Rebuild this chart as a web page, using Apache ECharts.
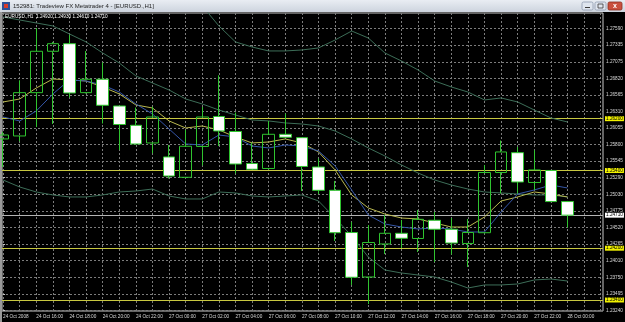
<!DOCTYPE html>
<html>
<head>
<meta charset="utf-8">
<script src="https://cdn.jsdelivr.net/npm/echarts@6/dist/echarts.min.js"></script>
<style>
  html, body { margin: 0; padding: 0; background: #000; }
  #chart { width: 625px; height: 322px; }
</style>
</head>
<body>
<div id="chart"></div>
<script>
// time labels, one every 2 bars (bar 0 = 24 Oct 14:00)
const timeLabels = ['24 Oct 2008', '24 Oct 16:00', '24 Oct 18:00', '24 Oct 20:00', '24 Oct 22:00',
  '27 Oct 00:00', '27 Oct 02:00', '27 Oct 04:00', '27 Oct 06:00', '27 Oct 08:00', '27 Oct 10:00',
  '27 Oct 12:00', '27 Oct 14:00', '27 Oct 16:00', '27 Oct 18:00', '27 Oct 20:00', '27 Oct 22:00',
  '28 Oct 00:00'];

// EURUSD H1 candles
const opens = [1.25887, 1.25933, 1.26602, 1.27241, 1.27358, 1.26602, 1.26809, 1.26396, 1.26098, 1.25825,
  1.25609, 1.25295, 1.25771, 1.26234, 1.26002, 1.25508, 1.25431, 1.25959, 1.25907, 1.25454,
  1.25094, 1.24442, 1.23755, 1.24265, 1.24430, 1.24350, 1.24631, 1.24492, 1.24273, 1.24439,
  1.25369, 1.25675, 1.25215, 1.25400, 1.24920];
const closes = [1.25948, 1.26602, 1.27241, 1.27358, 1.26597, 1.26809, 1.26407, 1.26110, 1.25809, 1.26226,
  1.25315, 1.25774, 1.26226, 1.26010, 1.25500, 1.25419, 1.25959, 1.25913, 1.25462, 1.25094,
  1.24439, 1.23751, 1.24288, 1.24430, 1.24353, 1.24646, 1.24492, 1.24280, 1.24442, 1.25369,
  1.25686, 1.25222, 1.25408, 1.24920, 1.24710];
const lows = [1.25454, 1.25851, 1.26072, 1.26118, 1.26527, 1.26589, 1.26126, 1.25717, 1.25802, 1.25666,
  1.25276, 1.25284, 1.25477, 1.25778, 1.25354, 1.25408, 1.25415, 1.25902, 1.25083, 1.25037,
  1.24311, 1.23632, 1.23338, 1.24110, 1.24203, 1.24141, 1.23987, 1.24103, 1.23910, 1.24427,
  1.25045, 1.25045, 1.25099, 1.24910, 1.24520];
const highs = [1.25995, 1.26793, 1.27601, 1.27385, 1.27493, 1.27246, 1.27068, 1.26400, 1.26373, 1.26385,
  1.25794, 1.26025, 1.26381, 1.26870, 1.26296, 1.25829, 1.26164, 1.26280, 1.25912, 1.25585,
  1.25238, 1.24605, 1.24558, 1.24713, 1.24636, 1.24790, 1.24759, 1.24666, 1.24651, 1.25485,
  1.25863, 1.25763, 1.25712, 1.25408, 1.24930];

// indicators
const maYellow = [1.26458, 1.26504, 1.26674, 1.26813, 1.26798, 1.26782, 1.26690, 1.26582, 1.26412, 1.26365,
  1.26165, 1.26056, 1.26087, 1.26026, 1.25917, 1.25825, 1.25840, 1.25887, 1.25825, 1.25686,
  1.25408, 1.25022, 1.24821, 1.24728, 1.24666, 1.24651, 1.24589, 1.24527, 1.24527, 1.24682,
  1.24929, 1.24991, 1.25068, 1.25037, 1.24991];
const maBlue = [1.26226, 1.26165, 1.26319, 1.26582, 1.26798, 1.26782, 1.26720, 1.26612, 1.26427, 1.26273,
  1.26041, 1.25809, 1.25794, 1.25948, 1.25917, 1.25778, 1.25748, 1.25794, 1.25778, 1.25701,
  1.25470, 1.25099, 1.24713, 1.24574, 1.24527, 1.24497, 1.24512, 1.24497, 1.24450, 1.24450,
  1.24759, 1.25037, 1.25099, 1.25176, 1.25130];
const bbUpper = [1.30288, 1.30303, 1.30288, 1.30242, 1.30025, 1.29778, 1.29408, 1.29053, 1.28636, 1.28388,
  1.28280, 1.28049, 1.27941, 1.27632, 1.27385, 1.27307, 1.27246, 1.27246, 1.27261, 1.27292,
  1.27415, 1.27554, 1.27446, 1.27215, 1.27091, 1.26952, 1.26782, 1.26690, 1.26612, 1.26489,
  1.26520, 1.26458, 1.26334, 1.26211, 1.26149];
const bbMid = [1.27771, 1.27724, 1.27678, 1.27632, 1.27508, 1.27385, 1.27215, 1.27060, 1.26860, 1.26751,
  1.26643, 1.26504, 1.26427, 1.26334, 1.26257, 1.26180, 1.26165, 1.26134, 1.26118, 1.26087,
  1.26010, 1.25887, 1.25748, 1.25624, 1.25485, 1.25361, 1.25253, 1.25176, 1.25114, 1.25068,
  1.25053, 1.25037, 1.25022, 1.25022, 1.24991];
const bbLower = [1.25253, 1.25145, 1.25068, 1.25022, 1.24991, 1.24991, 1.25022, 1.25068, 1.25083, 1.25114,
  1.25006, 1.24960, 1.24960, 1.25068, 1.25053, 1.25006, 1.24991, 1.25006, 1.25022, 1.24929,
  1.24666, 1.24388, 1.24064, 1.23863, 1.23817, 1.23786, 1.23755, 1.23678, 1.23585, 1.23632,
  1.23632, 1.23647, 1.23709, 1.23724, 1.23693];

// price scale labels and horizontal levels
const priceTicks = [1.27590, 1.27335, 1.27075, 1.26820, 1.26565, 1.26310, 1.26055, 1.25800, 1.25545,
  1.25290, 1.25030, 1.24775, 1.24520, 1.24265, 1.24010, 1.23750, 1.23495, 1.23240];
const levels = [1.26200, 1.25400, 1.24200, 1.23400];
const bid = 1.24710;

const font = 'Liberation Sans';
const pairs = arr => arr.map((v, i) => [i, v]);
const slots = Array.from({ length: 37 }, (_, i) => i);
const labelSlots = timeLabels.map((_, i) => i * 2);

const chart = echarts.init(document.getElementById('chart'));

const levelLines = levels.map(v => ({
  yAxis: v,
  lineStyle: { color: '#c8c840', type: 'solid', width: 1 },
  label: { formatter: v.toFixed(5), backgroundColor: '#f2f200' }
}));
levelLines.push({
  yAxis: bid,
  lineStyle: { color: '#b4b4b4', type: 'solid', width: 1 },
  label: { formatter: bid.toFixed(5), backgroundColor: '#ffffff' }
});

const bandLine = (name, data) => ({
  name, type: 'line', data: pairs(data), symbol: 'none', z: 2,
  lineStyle: { color: '#3d6e58', width: 1 }, silent: true
});

const option = {
  animation: false,
  backgroundColor: '#000',
  grid: { left: 2, right: 22, top: 13, bottom: 11, show: true, borderColor: '#c8c8c8', borderWidth: 1,
          containLabel: false, outerBoundsMode: 'none' },
  xAxis: {
    type: 'value', min: -0.066, max: 36.14,
    axisLine: { show: false },
    axisTick: { show: false, customValues: slots },
    splitLine: { show: true, lineStyle: { color: '#7c7c7c', type: [2, 2], width: 1 } },
    axisLabel: {
      customValues: labelSlots, formatter: v => timeLabels[v / 2],
      align: 'left', margin: 3, color: '#d8d8d8', fontSize: 4.7, fontFamily: font
    }
  },
  yAxis: {
    type: 'value', position: 'right', min: 1.2323, max: 1.27832,
    axisLine: { show: false },
    axisTick: { show: true, length: 2, customValues: priceTicks, lineStyle: { color: '#c8c8c8' } },
    splitLine: { show: true, lineStyle: { color: '#7c7c7c', type: [2, 2], width: 1 } },
    axisLabel: {
      customValues: priceTicks, formatter: v => v.toFixed(5),
      margin: 3, color: '#d8d8d8', fontSize: 4.7, fontFamily: font
    }
  },
  series: [
    {
      name: 'levels', type: 'line', data: [], silent: true,
      markLine: {
        symbol: 'none', silent: true, z: 1, animation: false, precision: 5,
        label: { show: true, position: 'end', distance: 2, color: '#000', padding: [0, 1],
                 fontSize: 4.7, fontFamily: font },
        data: levelLines
      }
    },
    bandLine('bbUpper', bbUpper),
    bandLine('bbMid', bbMid),
    bandLine('bbLower', bbLower),
    { name: 'ma1', type: 'line', data: pairs(maYellow), symbol: 'none', z: 2, silent: true,
      lineStyle: { color: '#b9b84f', width: 1 } },
    { name: 'ma2', type: 'line', data: pairs(maBlue), symbol: 'none', z: 2, silent: true,
      lineStyle: { color: '#3556a8', width: 1 } },
    {
      name: 'EURUSD', type: 'candlestick', z: 3, barWidth: 12, silent: true,
      encode: { x: 0, y: [1, 2, 3, 4] },
      data: opens.map((o, i) => [i, o, closes[i], lows[i], highs[i]]),
      itemStyle: {
        color: 'rgba(0,0,0,0)', color0: '#ffffff',
        borderColor: '#2fc42f', borderColor0: '#2fc42f', borderWidth: 1
      }
    }
  ],
  graphic: [
    { type: 'rect', silent: true, shape: { x: 0, y: 0, width: 625, height: 12 },
      style: { fill: new echarts.graphic.LinearGradient(0, 0, 0, 1, [
        { offset: 0, color: '#e9edf3' }, { offset: 1, color: '#cdd4de' }]) } },
    { type: 'rect', silent: true, shape: { x: 0, y: 12, width: 2, height: 310 }, style: { fill: '#9a9a9a' } },
    { type: 'rect', silent: true, shape: { x: 2, y: 2, width: 8, height: 8 }, style: { fill: '#2d4f96' } },
    { type: 'rect', silent: true, shape: { x: 4, y: 4, width: 4, height: 4 }, style: { fill: '#d83a2a' } },
    { type: 'text', silent: true, style: { x: 13, y: 6, text: '152981: Tradeview FX Metatrader 4 - [EURUSD.,H1]',
      fill: '#1e1e1e', fontSize: 6, fontFamily: font, verticalAlign: 'middle' } },
    { type: 'rect', silent: true, shape: { x: 582, y: 2, width: 11, height: 8, r: 1.5 },
      style: { fill: '#dfe5ee', stroke: '#8e9aae', lineWidth: 0.8 } },
    { type: 'rect', silent: true, shape: { x: 585, y: 7, width: 5, height: 1 }, style: { fill: '#3a3a3a' } },
    { type: 'rect', silent: true, shape: { x: 595, y: 2, width: 11, height: 8, r: 1.5 },
      style: { fill: '#dfe5ee', stroke: '#8e9aae', lineWidth: 0.8 } },
    { type: 'rect', silent: true, shape: { x: 598, y: 4, width: 5, height: 4 },
      style: { fill: 'none', stroke: '#3a3a3a', lineWidth: 0.8 } },
    { type: 'rect', silent: true, shape: { x: 608, y: 2, width: 14, height: 8, r: 1.5 },
      style: { fill: '#c9503e', stroke: '#8c2f22', lineWidth: 0.8 } },
    { type: 'text', silent: true, style: { x: 615, y: 6, text: 'x', fill: '#fff', fontSize: 7,
      fontWeight: 'bold', fontFamily: font, align: 'center', verticalAlign: 'middle' } },
    { type: 'text', silent: true, z: 10, style: { x: 5, y: 17, text: 'EURUSD.,H1  1.24920 1.24930 1.24610 1.24710',
      fill: '#ffffff', fontSize: 4.7, fontFamily: font, verticalAlign: 'middle' } }
  ]
};

chart.setOption(option);
</script>
</body>
</html>
